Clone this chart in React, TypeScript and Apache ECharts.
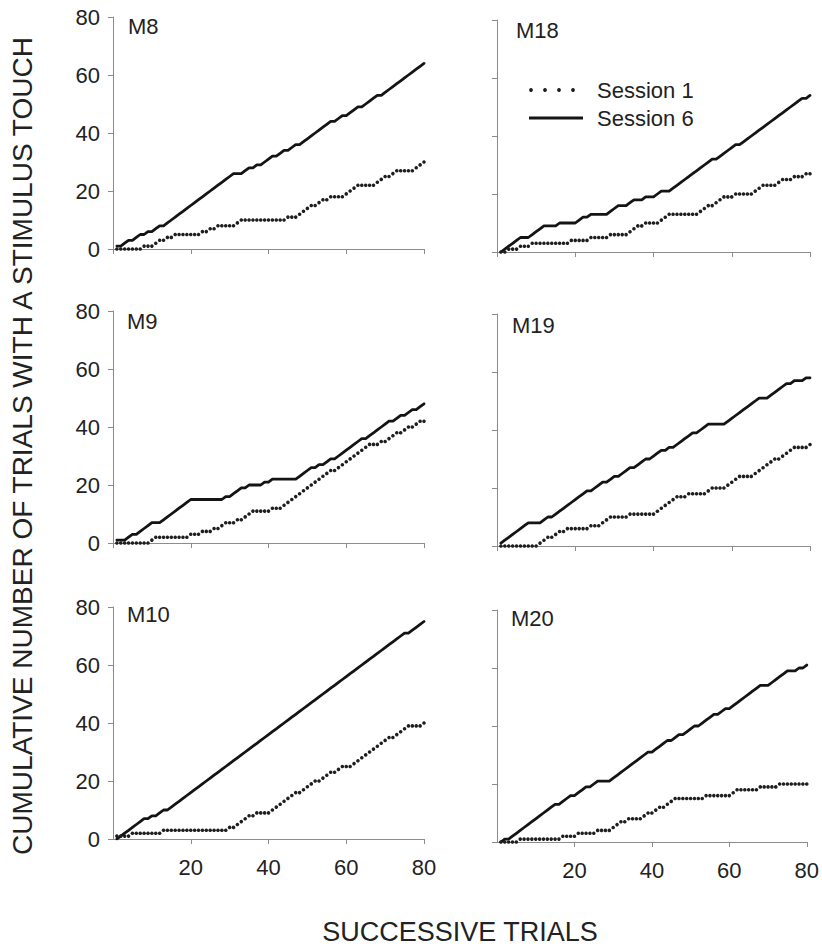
import React, { useEffect, useRef } from "react";
import * as echarts from "echarts";

// ---- data: cumulative number of trials with a stimulus touch, trials 1..80 ----
const trials: number[] = Array.from({ length: 80 }, (_, i) => i + 1);

const M8_S1 = [
  0, 0, 0, 0, 0, 0, 0, 1, 1, 1,
  2, 3, 3, 4, 4, 5, 5, 5, 5, 5,
  5, 5, 6, 6, 7, 7, 8, 8, 8, 8,
  8, 9, 10, 10, 10, 10, 10, 10, 10, 10,
  10, 10, 10, 10, 11, 11, 11, 12, 13, 14,
  15, 15, 16, 17, 17, 18, 18, 18, 18, 19,
  20, 21, 22, 22, 22, 22, 22, 23, 24, 25,
  25, 26, 27, 27, 27, 27, 27, 28, 29, 30,
];
const M8_S6 = [
  1, 1, 2, 3, 3, 4, 5, 5, 6, 6,
  7, 8, 8, 9, 10, 11, 12, 13, 14, 15,
  16, 17, 18, 19, 20, 21, 22, 23, 24, 25,
  26, 26, 26, 27, 28, 28, 29, 29, 30, 31,
  32, 32, 33, 34, 34, 35, 36, 36, 37, 38,
  39, 40, 41, 42, 43, 44, 44, 45, 46, 46,
  47, 48, 49, 49, 50, 51, 52, 53, 53, 54,
  55, 56, 57, 58, 59, 60, 61, 62, 63, 64,
];
const M18_S1 = [
  0, 0, 1, 1, 1, 2, 2, 2, 3, 3,
  3, 3, 3, 3, 3, 3, 3, 3, 4, 4,
  4, 4, 4, 5, 5, 5, 5, 5, 6, 6,
  6, 6, 6, 7, 8, 9, 9, 10, 10, 10,
  10, 11, 12, 13, 13, 13, 13, 13, 13, 13,
  13, 14, 15, 16, 16, 17, 18, 19, 19, 19,
  20, 20, 20, 20, 20, 21, 22, 23, 23, 23,
  23, 24, 25, 25, 25, 26, 26, 26, 27, 27,
];
const M18_S6 = [
  0, 1, 2, 3, 4, 5, 5, 5, 6, 7,
  8, 9, 9, 9, 9, 10, 10, 10, 10, 10,
  11, 12, 12, 13, 13, 13, 13, 13, 14, 15,
  16, 16, 16, 17, 18, 18, 18, 19, 19, 19,
  20, 21, 21, 21, 22, 23, 24, 25, 26, 27,
  28, 29, 30, 31, 32, 32, 33, 34, 35, 36,
  37, 37, 38, 39, 40, 41, 42, 43, 44, 45,
  46, 47, 48, 49, 50, 51, 52, 53, 53, 54,
];
const M9_S1 = [
  0, 0, 0, 0, 0, 0, 0, 0, 0, 1,
  2, 2, 2, 2, 2, 2, 2, 2, 2, 3,
  3, 3, 4, 4, 4, 5, 5, 6, 7, 7,
  7, 8, 8, 9, 10, 11, 11, 11, 11, 11,
  12, 12, 12, 13, 14, 15, 16, 17, 18, 19,
  20, 21, 22, 23, 24, 25, 25, 26, 27, 28,
  29, 30, 31, 32, 33, 34, 34, 34, 35, 35,
  36, 37, 38, 38, 39, 40, 40, 41, 42, 42,
];
const M9_S6 = [
  1, 1, 1, 2, 3, 3, 4, 5, 6, 7,
  7, 7, 8, 9, 10, 11, 12, 13, 14, 15,
  15, 15, 15, 15, 15, 15, 15, 15, 16, 16,
  17, 18, 19, 19, 20, 20, 20, 20, 21, 21,
  22, 22, 22, 22, 22, 22, 22, 23, 24, 25,
  26, 26, 27, 27, 28, 29, 29, 30, 31, 32,
  33, 34, 35, 36, 36, 37, 38, 39, 40, 41,
  42, 42, 43, 44, 44, 45, 46, 46, 47, 48,
];
const M19_S1 = [
  0, 0, 0, 0, 0, 0, 0, 0, 0, 0,
  1, 2, 3, 3, 4, 5, 5, 6, 6, 6,
  6, 6, 6, 7, 7, 7, 8, 9, 10, 10,
  10, 10, 10, 11, 11, 11, 11, 11, 11, 11,
  12, 13, 14, 15, 16, 17, 17, 17, 18, 18,
  18, 18, 18, 19, 20, 20, 20, 20, 21, 22,
  23, 24, 24, 24, 24, 25, 26, 27, 28, 29,
  30, 30, 31, 32, 33, 34, 34, 34, 34, 35,
];
const M19_S6 = [
  1, 2, 3, 4, 5, 6, 7, 8, 8, 8,
  8, 9, 10, 10, 11, 12, 13, 14, 15, 16,
  17, 18, 19, 19, 20, 21, 22, 22, 23, 24,
  24, 25, 26, 27, 27, 28, 29, 30, 30, 31,
  32, 33, 33, 34, 34, 35, 36, 37, 38, 39,
  39, 40, 41, 42, 42, 42, 42, 42, 43, 44,
  45, 46, 47, 48, 49, 50, 51, 51, 51, 52,
  53, 54, 55, 56, 56, 57, 57, 57, 58, 58,
];
const M10_S1 = [
  1, 1, 1, 1, 2, 2, 2, 2, 2, 2,
  2, 2, 3, 3, 3, 3, 3, 3, 3, 3,
  3, 3, 3, 3, 3, 3, 3, 3, 3, 4,
  4, 5, 6, 7, 8, 8, 9, 9, 9, 9,
  10, 11, 12, 13, 14, 15, 16, 16, 17, 18,
  19, 20, 20, 21, 22, 23, 23, 24, 25, 25,
  25, 26, 27, 28, 29, 30, 31, 32, 33, 34,
  35, 35, 36, 37, 38, 39, 39, 39, 39, 40,
];
const M10_S6 = [
  0, 1, 2, 3, 4, 5, 6, 7, 7, 8,
  8, 9, 10, 10, 11, 12, 13, 14, 15, 16,
  17, 18, 19, 20, 21, 22, 23, 24, 25, 26,
  27, 28, 29, 30, 31, 32, 33, 34, 35, 36,
  37, 38, 39, 40, 41, 42, 43, 44, 45, 46,
  47, 48, 49, 50, 51, 52, 53, 54, 55, 56,
  57, 58, 59, 60, 61, 62, 63, 64, 65, 66,
  67, 68, 69, 70, 71, 71, 72, 73, 74, 75,
];
const M20_S1 = [
  0, 0, 0, 0, 0, 1, 1, 1, 1, 1,
  1, 1, 1, 1, 1, 1, 2, 2, 2, 2,
  3, 3, 3, 3, 3, 4, 4, 4, 4, 5,
  6, 7, 7, 8, 8, 8, 8, 9, 10, 10,
  11, 12, 12, 13, 14, 15, 15, 15, 15, 15,
  15, 15, 15, 16, 16, 16, 16, 16, 16, 16,
  17, 18, 18, 18, 18, 18, 18, 19, 19, 19,
  19, 19, 20, 20, 20, 20, 20, 20, 20, 20,
];
const M20_S6 = [
  0, 1, 1, 2, 3, 4, 5, 6, 7, 8,
  9, 10, 11, 12, 13, 13, 14, 15, 16, 16,
  17, 18, 19, 19, 20, 21, 21, 21, 21, 22,
  23, 24, 25, 26, 27, 28, 29, 30, 31, 31,
  32, 33, 34, 35, 35, 36, 37, 37, 38, 39,
  40, 40, 41, 42, 43, 44, 44, 45, 46, 46,
  47, 48, 49, 50, 51, 52, 53, 54, 54, 54,
  55, 56, 57, 58, 59, 59, 59, 60, 60, 61,
];

const panelNames = ["M8", "M18", "M9", "M19", "M10", "M20"];
const session1 = [M8_S1, M18_S1, M9_S1, M19_S1, M10_S1, M20_S1];
const session6 = [M8_S6, M18_S6, M9_S6, M19_S6, M10_S6, M20_S6];
const seriesNames = ["Session 1", "Session 6"];
const yTicks = { min: 0, max: 80, interval: 20 };
const xTicks = { min: 0, max: 80, interval: 20 };
const yTitle = "CUMULATIVE NUMBER OF TRIALS WITH A STIMULUS TOUCH";
const xTitle = "SUCCESSIVE TRIALS";

// ---- layout (pixels) ----
const FONT = '"Liberation Sans", Arial, Helvetica, sans-serif';
const TEXT = "#222222";
const AXIS = "#8c8c8c";
const colLeft = [113, 497];
const colWidth = [311, 313];
const rowTop = [[17, 311, 607], [20, 314, 610]];
const rowHeight = 232;
const labelPos = [
  [128, 26], [516, 30],
  [127, 321], [512, 325],
  [127, 614], [511, 618],
];

export default function App() {
  const ref = useRef<HTMLDivElement>(null);

  useEffect(() => {
    if (!ref.current) return;
    const chart = echarts.init(ref.current, undefined, { renderer: "svg" });

    const grids: any[] = [];
    const xAxes: any[] = [];
    const yAxes: any[] = [];
    const series: any[] = [];

    panelNames.forEach((name, i) => {
      const col = i % 2;
      const row = Math.floor(i / 2);
      grids.push({
        left: colLeft[col],
        top: rowTop[col][row],
        width: colWidth[col],
        height: rowHeight,
        containLabel: false,
      });
      xAxes.push({
        type: "value",
        gridIndex: i,
        min: xTicks.min,
        max: xTicks.max,
        interval: xTicks.interval,
        axisLine: { show: true, lineStyle: { color: AXIS, width: 1 } },
        axisTick: { show: true, length: 5, lineStyle: { color: AXIS, width: 1 } },
        splitLine: { show: false },
        axisLabel: {
          show: row === 2,
          showMinLabel: false,
          margin: 17,
          fontSize: 22,
          color: TEXT,
          fontFamily: FONT,
        },
      });
      yAxes.push({
        type: "value",
        gridIndex: i,
        min: yTicks.min,
        max: yTicks.max,
        interval: yTicks.interval,
        axisLine: { show: true, lineStyle: { color: AXIS, width: 1 } },
        axisTick: { show: true, length: 5, lineStyle: { color: AXIS, width: 1 } },
        splitLine: { show: false },
        axisLabel: {
          show: col === 0,
          margin: 13,
          fontSize: 22,
          color: TEXT,
          fontFamily: FONT,
        },
      });
      series.push({
        name: seriesNames[0],
        type: "line",
        xAxisIndex: i,
        yAxisIndex: i,
        data: trials.map((t, k) => [t, session1[i][k]]),
        showSymbol: true,
        showAllSymbol: true,
        symbol: "circle",
        symbolSize: 3.6,
        itemStyle: { color: "#1e1e1e" },
        lineStyle: { width: 0, opacity: 0 },
        emphasis: { disabled: true },
        silent: true,
        z: 3,
      });
      series.push({
        name: seriesNames[1],
        type: "line",
        xAxisIndex: i,
        yAxisIndex: i,
        data: trials.map((t, k) => [t, session6[i][k]]),
        showSymbol: false,
        symbol: "none",
        lineStyle: { width: 2.8, color: "#141414", join: "round", cap: "round" },
        itemStyle: { color: "#141414" },
        emphasis: { disabled: true },
        silent: true,
        z: 2,
      });
    });

    const graphic: any[] = [];
    panelNames.forEach((name, i) => {
      graphic.push({
        type: "text",
        x: labelPos[i][0],
        y: labelPos[i][1],
        style: {
          text: name,
          fontSize: 22,
          fontFamily: FONT,
          fill: TEXT,
          textAlign: "left",
          textVerticalAlign: "middle",
        },
      });
    });
    // legend (inside the M18 panel)
    [531, 545, 559, 573].forEach((cx) => {
      graphic.push({
        type: "circle",
        shape: { cx, cy: 90, r: 1.9 },
        style: { fill: "#1e1e1e" },
      });
    });
    graphic.push({
      type: "line",
      shape: { x1: 529, y1: 118, x2: 583, y2: 118 },
      style: { stroke: "#141414", lineWidth: 3 },
    });
    graphic.push({
      type: "text",
      x: 597,
      y: 90,
      style: { text: seriesNames[0], fontSize: 22, fontFamily: FONT, fill: TEXT, textVerticalAlign: "middle" },
    });
    graphic.push({
      type: "text",
      x: 597,
      y: 118,
      style: { text: seriesNames[1], fontSize: 22, fontFamily: FONT, fill: TEXT, textVerticalAlign: "middle" },
    });
    // axis titles
    graphic.push({
      type: "text",
      x: 22,
      y: 446,
      rotation: Math.PI / 2,
      style: {
        text: yTitle,
        fontSize: 28,
        fontFamily: FONT,
        fill: TEXT,
        textAlign: "center",
        textVerticalAlign: "middle",
      },
    });
    graphic.push({
      type: "text",
      x: 460,
      y: 932,
      style: {
        text: xTitle,
        fontSize: 27,
        fontFamily: FONT,
        fill: TEXT,
        textAlign: "center",
        textVerticalAlign: "middle",
      },
    });

    chart.setOption({
      animation: false,
      backgroundColor: "#ffffff",
      grid: grids,
      xAxis: xAxes,
      yAxis: yAxes,
      series,
      graphic,
    });

    return () => chart.dispose();
  }, []);

  return (
    <div
      ref={ref}
      style={{ position: "absolute", left: 0, top: 0, width: 822, height: 948 }}
    />
  );
}
